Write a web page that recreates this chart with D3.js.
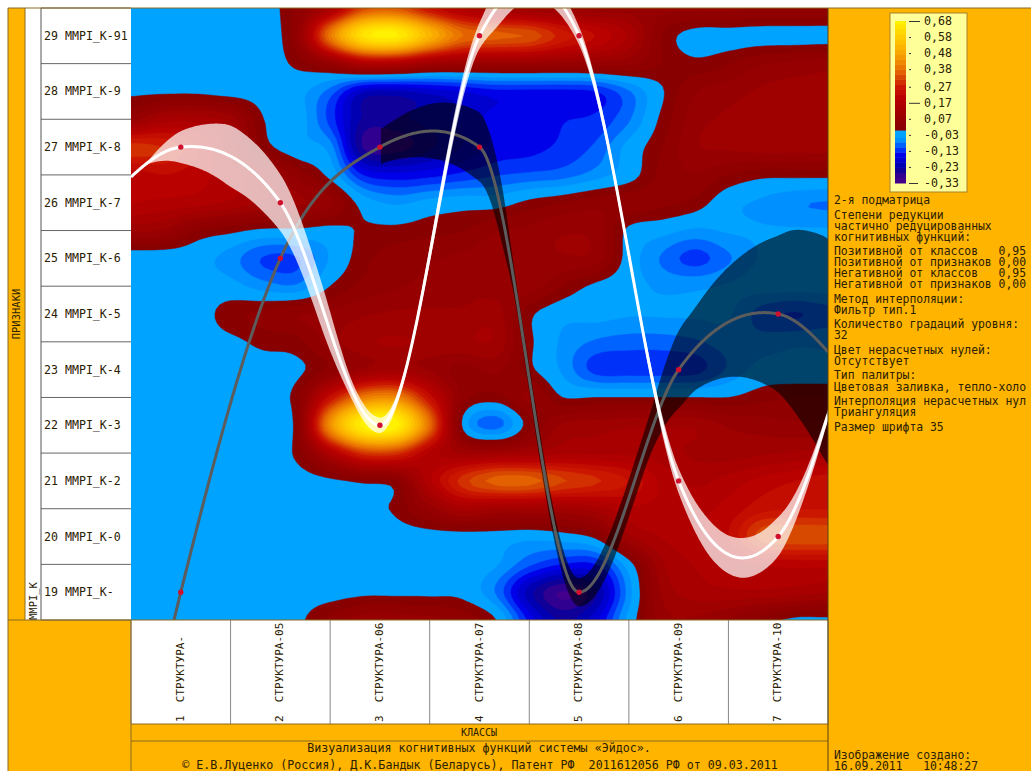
<!DOCTYPE html>
<html><head><meta charset="utf-8">
<script src="https://cdnjs.cloudflare.com/ajax/libs/d3/7.8.5/d3.min.js"></script>
<style>html,body{margin:0;padding:0;background:#fff;overflow:hidden}svg{display:block}
text{font-family:"DejaVu Sans Mono",monospace;fill:#2a2000}</style></head><body>
<svg id="c" width="1031" height="771"></svg>
<script>
const classNames=["1  СТРУКТУРА-","2  СТРУКТУРА-05","3  СТРУКТУРА-06","4  СТРУКТУРА-07","5  СТРУКТУРА-08","6  СТРУКТУРА-09","7  СТРУКТУРА-10"];
const featureNames=["19 MMPI_K-","20 MMPI_K-0","21 MMPI_K-2","22 MMPI_K-3","23 MMPI_K-4","24 MMPI_K-5","25 MMPI_K-6","26 MMPI_K-7","27 MMPI_K-8","28 MMPI_K-9","29 MMPI_K-91"];
const legendTicks=[0.68,0.58,0.48,0.38,0.27,0.17,0.07,-0.03,-0.13,-0.23,-0.33];
// similarity field in hundredths; 3 columns per class, 2 rows per feature
const field=[
[-2,-2,-2,-2,-2.5,4,14,32,34,24,16,12,10,9,8,8,7,7,7,6,6,6],
[-2,-2,-2,-2,-2.5,6,40,64,67,52,38,36,34,27,22,15,3,-2,-2,-2,-2,-2],
[-2,-2,-2,-2,-2,1,7,16,16,11,9,9,9,8,8,7,3,1,3,6,7,8],
[-1,-1,-1,-2,-2,-3,-9,-20,-21,-19,-17,-15,-15,-15,-14,-8,-.5,6,8,10,11,11],
[8,14,14,11,0,-2,-12,-24,-24,-22,-19,-16,-15,-14,-13,-8,1,8,10,11,12,11],
[30,28,22,14,2,-3,-6,-27,-28,-24,-20,-16,-15,-13,-10,-3,3,9,10,11,11,11],
[20,22,20,17,12,5,-1.5,-14,-16,-15,-13,-11,-10,-9,-6,-2,4,6,3,1,1,1],
[19,18,17,15,12,10,7,-2,-5,-3,-2,-2,1,3,5,5,4,2,-3,-5,-7,-7.8],
[10,9,3,1,-1,-1,-1.5,.5,1,2,3,6,7,9,8,-1,-3,-5,-4,-4,-4,-4],
[-3,-3,-3,-6,-11,-11,-4,2,5,6,7,8,8,9,8,-2,-8,-12,-8,-4,-3,-3],
[-2,-2,-2,-3,-6,-7,0,4,6,7,8,8,8,3,-1,-3,-5,-5,-4,-3,-3,-3],
[-2,-2,-2,2,4,6,7,9,10,10,10,11,1,-3,-3,-4,-4,-4,-4,-9,-11,-9],
[-2,-2,-2,-1,1,2,8,12,13,12,12,12,1,-5,-8,-9,-9,-8,-6,-6,-5,-5],
[-2,-2,-2,-2,-2,-1,4,10,12,9,5,7,1,-5,-12,-12.5,-12.5,-12,-7,-3,-3,-3],
[-2,-2,-2,-2,-2,2,24,40,42,24,5,2,7,0,0,0,0,0,0,2,3,3],
[-2,-2,-2,-2,-3,2,44,68,68,38,-1,-9,2,10,11,12,12,12,9,8,7,7],
[-2,-2,-2,-2,-2,1,16,30,30,18,12,12,13,15,15,15,14,12,11,12,13,14],
[-2,-2,-2,-2,-2,-2,-1,1,3,18,30,36,36,32,29,25,18,15,17,20,22,24],
[-2,-2,-2,-2,-2,-2,-2,-2,1,8,14,12,12,12,14,18,18,18,20,24,25,25],
[-2,-2,-2,-2,-2,-2,-2,-2,-2,-2,-2,-2,-3,-2,1,12,16,18,22,33,34,34],
[-2,-2,-2,-2,-2,-2,-2,-2,-2,-2,-2,-4,-10,-14,-14,-2,12,16,18,19,20,20],
[-2,-2,-2,-2,-2,-2,-2,-1,-1,-1,-1.5,-8,-22,-30,-24,-6,10,14,15,15,14,13],
[-2,-2,-2,-2,-2,-1,4,8,8,7,5,0,-15,-24,-18,-3,8,9,6,2,-1,-1]
];
// positive (white) and negative (dark) cognitive functions: feature number per class; first/last are the run-out beyond the plot
const curveClasses=[0,1,2,3,4,5,6,7,8];
const whiteValues=[25.63,27,26,22,29,29,21,20,25.15];
const darkValues=[10.6,19,25,27,27,19,23,24,22.3];
const darkSlopes=[null,null,null,null,-1.3,null,null,null,null];
const markClasses=[1,2,3,4,5,6,7];
const whiteBandAt=[0.64,1,1.3,1.5,1.84,2.1,2.45,2.7,3,3.3,3.6,4,4.18,4.5,4.8,5,5.3,5.6,6,6.3,6.65,7,7.3,7.5];
const whiteBandHalf=[0,.29,.45,.56,.54,.49,.40,.16,.14,.07,.18,.22,.38,.3,.22,.16,.11,.09,.22,.32,.36,.36,.18,.09];
const darkBandAt=[3.01,3.51,4.02,4.24,4.36,4.61,4.81,5,5.29,5.71,6.01,6.14,6.62,7,7.15,7.5];
const darkBandHalf=[.31,.49,.63,.54,.18,.27,.25,.25,.32,.36,.72,.72,1.08,1.4,1.62,2.05];
const sideTexts=[[200,"2-я подматрица"],[215,"Степени редукции"],[226,"частично редуцированных"],[237,"когнитивных функций:"],[251,"Позитивной от классов   0,95"],[262,"Позитивной от признаков 0,00"],[273,"Негативной от классов   0,95"],[284,"Негативной от признаков 0,00"],[299,"Метод интерполяции:"],[310,"Фильтр тип.1"],[324,"Количество градаций уровня:"],[335,"32"],[350,"Цвет нерасчетных нулей:"],[361,"Отсутствует"],[375,"Тип палитры:"],[387,"Цветовая заливка, тепло-холо"],[401,"Интерполяция нерасчетных нул"],[412,"Триангуляция"],[427,"Размер шрифта 35"],[755,"Изображение создано:"],[765.5,"16.09.2011   10:48:27"]];

const ORANGE="#FFB400",LINE="#8a6a20";
const PL=131,PR=828,PT=8,PB=620;
const svg=d3.select("#c");
const x=d3.scaleLinear().domain([0.5,7.5]).range([PL,PR]);
const y=d3.scaleLinear().domain([18.5,29.5]).range([PB,PT]);

// panels
const rect=(a,b,c,d,f,s)=>svg.append("rect").attr("x",a).attr("y",b).attr("width",c-a).attr("height",d-b).attr("fill",f).attr("stroke",s||"none");
rect(8,8,1031,771,ORANGE);
rect(25,8,131,620,"#fff");
rect(131,620,828,724,"#fff");
svg.append("defs").append("clipPath").attr("id","plot").append("rect").attr("x",PL).attr("y",PT).attr("width",PR-PL).attr("height",PB-PT);

// field
const color=d3.scaleLinear()
 .domain([-.32,-.28,-.25,-.22,-.185,-.155,-.123,-.09,-.06,-.02,0,.1,.2,.27,.33,.38,.48,.58,.68])
 .range(["#480088","#300090","#100098","#0000b0","#0000d0","#0000e8","#0030f8","#0064ff","#0090ff","#00a8ff","#860000","#9c0000","#b80000","#cc1800","#d84800","#e86e00","#f8a400","#ffcc00","#fff200"]);
const step=1.01/32;
const levels=d3.range(-10,22).map(k=>k<0?k*step-0.012:k*step);
const bandColor=t=>color(t+step*0.5);
const K=6,rows=field.length,cols=field[0].length;
const n=(cols-1)*K+1,m=(rows-1)*K+1;
const cr=(a,b,c,d,t)=>0.5*(2*b+(c-a)*t+(2*a-5*b+4*c-d)*t*t+(3*b-a-3*c+d)*t*t*t);
const at=(j,i)=>field[Math.max(0,Math.min(rows-1,j))][Math.max(0,Math.min(cols-1,i))]/100;
const grid=new Float64Array(n*m);
for(let v=0;v<m;v++)for(let u=0;u<n;u++){
 const j=Math.min(rows-2,Math.floor(v/K)),i=Math.min(cols-2,Math.floor(u/K));
 const tv=v/K-j,tu=u/K-i,r=[];
 for(let q=-1;q<3;q++)r.push(cr(at(j+q,i-1),at(j+q,i),at(j+q,i+1),at(j+q,i+2),tu));
 grid[v*n+u]=cr(r[0],r[1],r[2],r[3],tv);
}
const contours=d3.contours().size([n,m]).thresholds(levels)(Array.from(grid));
const sx=d3.scaleLinear().domain([0.5,n-0.5]).range([PL,PR]);
const sy=d3.scaleLinear().domain([0.5,m-0.5]).range([PT,PB]);
const proj=d3.geoTransform({point(a,b){this.stream.point(sx(a),sy(b));}});
const path=d3.geoPath(proj);
const gf=svg.append("g").attr("clip-path","url(#plot)");
gf.append("rect").attr("x",PL).attr("y",PT).attr("width",PR-PL).attr("height",PB-PT).attr("fill",color(-.32));
gf.selectAll("path").data(contours).join("path").attr("d",path).attr("fill",d=>bandColor(d.value)).attr("stroke",d=>bandColor(d.value)).attr("stroke-width",.5);

// piecewise cubic through class values; flat at interior extremes
function spline(xs,ys,over){
 const N=xs.length-1,s=ys.map((v,i)=>{
  if(over&&over[i]!=null)return over[i];
  if(i==0)return ys[1]-v; if(i==N)return v-ys[N-1];
  const e=(v-ys[i-1])*(ys[i+1]-v)<0;
  return (e&&i>1&&i<N-1)?0:(ys[i+1]-ys[i-1])/2;});
 return t=>{const i=Math.max(0,Math.min(N-1,Math.floor(t))),q=t-i,q2=q*q,q3=q2*q;
  return (2*q3-3*q2+1)*ys[i]+(q3-2*q2+q)*s[i]+(3*q2-2*q3)*ys[i+1]+(q3-q2)*s[i+1];};
}
const smoothHalf=(a,hv)=>{const f=d3.scaleLinear().domain(a).range(hv).clamp(true);return t=>d3.mean(d3.range(-4,5),k=>f(t+k*0.015));};
const ts=d3.range(0.5,7.505,0.01);
const wf=spline(curveClasses,whiteValues),df=spline(curveClasses,darkValues,darkSlopes);
const wh=smoothHalf(whiteBandAt,whiteBandHalf),dh=smoothHalf(darkBandAt,darkBandHalf);
const line=f=>d3.line().x(t=>x(t)).y(t=>y(f(t)));
const area=(f,h)=>d3.area().x(t=>x(t)).y0(t=>y(f(t)+h(t))).y1(t=>y(f(t)-h(t)));
const gc=svg.append("g").attr("clip-path","url(#plot)");
gc.append("path").attr("d",area(df,dh)(ts.filter(t=>t>=3.01))).attr("fill","#000").attr("fill-opacity",.58);
gc.append("path").attr("d",line(df)(ts)).attr("fill","none").attr("stroke","#5c5c5c").attr("stroke-width",3);
gc.append("path").attr("d",area(wf,wh)(ts.filter(t=>t>=0.64))).attr("fill","#fff").attr("fill-opacity",.72);
gc.append("path").attr("d",line(wf)(ts)).attr("fill","none").attr("stroke","#fff").attr("stroke-width",3);
[wf,df].forEach(f=>gc.selectAll(null).data(markClasses).join("circle").attr("cx",d=>x(d)).attr("cy",d=>y(f(d))).attr("r",2.7).attr("fill","#d0102c"));

// rows, columns
const rowEdges=d3.range(18.5,30,1),colEdges=d3.range(0.5,8,1);
svg.selectAll(null).data(rowEdges).join("line").attr("x1",41).attr("x2",PL).attr("y1",d=>y(d)).attr("y2",d=>y(d)).attr("stroke","#666");
svg.selectAll(null).data(colEdges).join("line").attr("x1",d=>x(d)).attr("x2",d=>x(d)).attr("y1",PB).attr("y2",724).attr("stroke","#888");
svg.selectAll(null).data(featureNames).join("text").attr("x",44).attr("y",(d,i)=>y(19+i)+4).attr("font-size",11.6).attr("xml:space","preserve").text(d=>d);
svg.selectAll(null).data(classNames).join("text").attr("transform",(d,i)=>`translate(${x(i+1)+3},722) rotate(-90)`).attr("font-size",11).attr("xml:space","preserve").text(d=>d);
const seg=(a,b,c,d,s)=>svg.append("line").attr("x1",a).attr("y1",b).attr("x2",c).attr("y2",d).attr("stroke",s||LINE);
seg(41,8,41,620,"#555");seg(8,8,8,771);seg(25,8,25,620);seg(8,620,828,620);seg(131,620,131,771);
seg(131,724,828,724);seg(131,741,828,741);seg(828,8,828,771,"#5a4010");seg(8,8,1031,8);
svg.append("text").attr("transform","translate(20,314) rotate(-90)").attr("text-anchor","middle").attr("font-size",10.5).text("ПРИЗНАКИ");
svg.append("text").attr("transform","translate(37,620) rotate(-90)").attr("font-size",10.5).text("MMPI_K");
svg.append("text").attr("x",479).attr("y",736).attr("text-anchor","middle").attr("font-size",10).text("КЛАССЫ");
svg.append("text").attr("x",479).attr("y",752).attr("text-anchor","middle").attr("font-size",11.65).text("Визуализация когнитивных функций системы «Эйдос».");
svg.append("text").attr("x",480).attr("y",768.5).attr("text-anchor","middle").attr("font-size",11.65).attr("xml:space","preserve").text("© Е.В.Луценко (Россия), Д.К.Бандык (Беларусь), Патент РФ  2011612056 РФ от 09.03.2011");

// legend
rect(890,13,967,192,"#FFFF99","#a8802a");
const ly=d3.scaleLinear().domain([-.33,.68]).range([183,21]);
const legendStops=[-.33].concat(levels.slice(1));
svg.selectAll(null).data(legendStops).join("rect").attr("x",895).attr("width",11)
 .attr("y",(d,i)=>ly(i<legendStops.length-1?legendStops[i+1]:.68)).attr("height",(d,i)=>ly(d)-ly(i<legendStops.length-1?legendStops[i+1]:.68)+.5).attr("fill",(d,i)=>bandColor(levels[i]));
const ax=d3.axisRight(ly).tickValues(legendTicks).tickSize(0).tickPadding(0).tickFormat(d=>d.toFixed(2).replace(".",","));
const gl=svg.append("g").attr("transform","translate(909,0)").call(ax);
gl.select(".domain").remove();
gl.selectAll(".tick line").attr("x2",(d,i)=>[0,5,10].includes(i)?(i==10?9:11):2).attr("stroke","#333");
gl.selectAll(".tick text").attr("x",15).attr("dy","0.32em").attr("font-size",11.6).attr("font-family",'"DejaVu Sans Mono"').attr("text-anchor","start").attr("fill","#2a2000");

// right column
svg.append("g").selectAll("text").data(sideTexts).join("text").attr("x",834).attr("y",d=>d[0]+4).attr("font-size",11.4).attr("xml:space","preserve").text(d=>d[1]);
</script></body></html>
